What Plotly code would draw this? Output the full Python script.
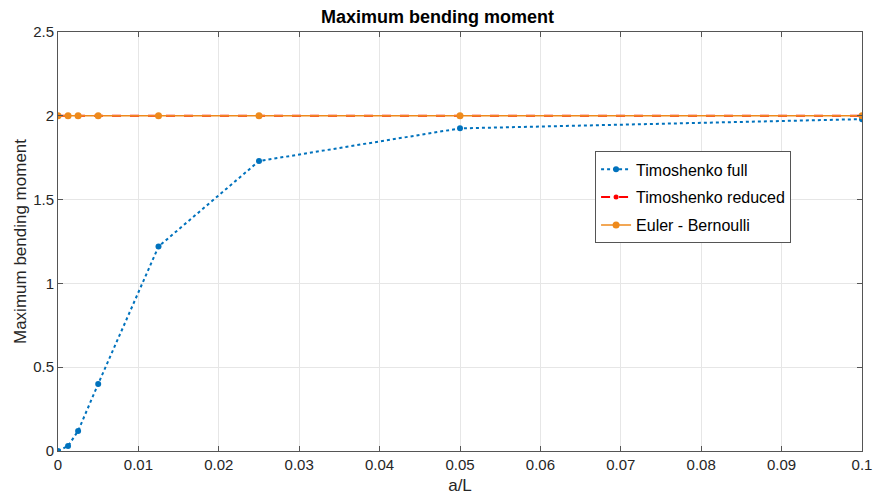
import plotly.graph_objects as go

x_vals = [0, 0.00125, 0.0025, 0.005, 0.0125, 0.025, 0.05, 0.1]
tim_full = [0.0, 0.03, 0.12, 0.40, 1.22, 1.73, 1.925, 1.98]
tim_reduced = [2.0, 2.0, 2.0, 2.0, 2.0, 2.0, 2.0, 2.0]
euler = [2.0, 2.0, 2.0, 2.0, 2.0, 2.0, 2.0, 2.0]

x_ticks = [0, 0.01, 0.02, 0.03, 0.04, 0.05, 0.06, 0.07, 0.08, 0.09, 0.1]
x_tick_text = ["0", "0.01", "0.02", "0.03", "0.04", "0.05", "0.06", "0.07", "0.08", "0.09", "0.1"]
y_ticks = [0, 0.5, 1, 1.5, 2, 2.5]
y_tick_text = ["0", "0.5", "1", "1.5", "2", "2.5"]

font = "Liberation Sans, Arial, sans-serif"

fig = go.Figure()
fig.add_trace(go.Scatter(x=x_vals, y=tim_full, name="Timoshenko full", mode="lines+markers",
                         legendgroup="g1",
                         line=dict(color="#0072BD", width=2, dash="dot"),
                         marker=dict(symbol="circle", size=6, color="#0072BD")))
fig.add_trace(go.Scatter(x=x_vals, y=tim_reduced, name="Timoshenko reduced", mode="lines+markers",
                         legendgroup="g2",
                         line=dict(color="#FF0000", width=2, dash="dash"),
                         marker=dict(symbol="circle", size=5, color="#FF0000")))
fig.add_trace(go.Scatter(x=x_vals, y=euler, name="Euler - Bernoulli", mode="lines+markers",
                         legendgroup="g3",
                         line=dict(color="#EE8A1C", width=1.5, dash="solid"),
                         marker=dict(symbol="circle", size=7, color="#EE8A1C")))

axis_common = dict(showline=True, linecolor="#555555", linewidth=1, mirror="ticks",
                   ticks="inside", ticklen=5, tickcolor="#555555",
                   showgrid=True, gridcolor="#E6E6E6", gridwidth=1, zeroline=False,
                   automargin=False,
                   tickfont=dict(family=font, size=15, color="#262626"))

fig.update_layout(
    width=875, height=499,
    margin=dict(l=58, r=13, t=32, b=48),
    paper_bgcolor="white", plot_bgcolor="white",
    title=dict(text="<b>Maximum bending moment</b>", x=0.5, xanchor="center", y=0.966, yanchor="middle",
               font=dict(family=font, size=18, color="black")),
    xaxis=dict(range=[0, 0.1], tickvals=x_ticks, ticktext=x_tick_text,
               title=dict(text="a/L", font=dict(family=font, size=17, color="#262626"), standoff=7),
               **axis_common),
    yaxis=dict(range=[0, 2.5], tickvals=y_ticks, ticktext=y_tick_text,
               title=dict(text="Maximum bending moment", font=dict(family=font, size=17, color="#262626"), standoff=2),
               **axis_common),
    legend=dict(x=0.668, y=0.715, xanchor="left", yanchor="top",
                bgcolor="white", bordercolor="#555555", borderwidth=1,
                font=dict(family=font, size=16, color="black"),
                tracegroupgap=4, itemwidth=30),
    showlegend=True,
)

fig.write_html("out.html")
